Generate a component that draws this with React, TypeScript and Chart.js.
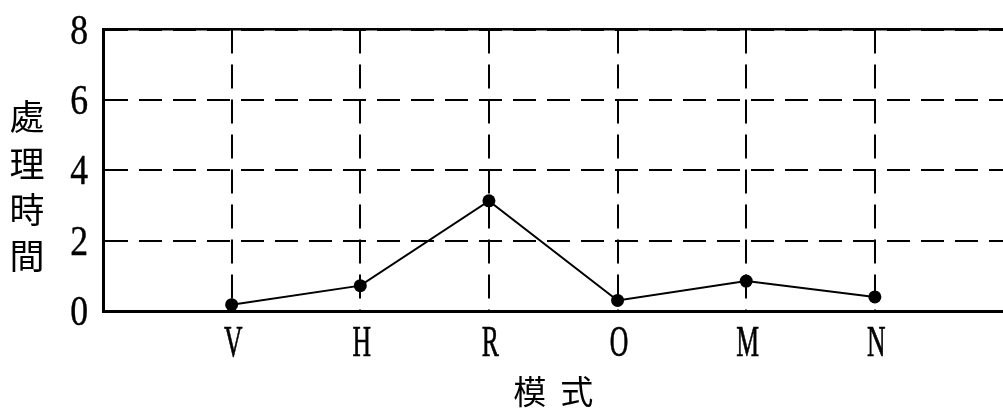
import React, { useEffect, useRef } from "react";
import { Chart, registerables } from "chart.js";

Chart.register(...registerables);

const categories = ["V", "H", "R", "O", "M", "N"];
const times = [0.18, 0.72, 3.13, 0.3, 0.85, 0.4];
const yTickValues = [0, 2, 4, 6, 8];
const yTitleChars = ["處", "理", "時", "間"];
const xTitleChars = ["模", "式"];

const W = 1010;
const H = 417;

const labelPlugin = {
  id: "customLabels",
  afterDraw(chart: any) {
    const ctx = chart.ctx as CanvasRenderingContext2D;
    const xs = chart.scales.x;
    const ys = chart.scales.y;
    const area = chart.chartArea;
    ctx.save();
    ctx.fillStyle = "#000";
    ctx.strokeStyle = "#000";
    ctx.lineJoin = "round";
    // y tick labels
    ctx.font = '42px "Liberation Serif"';
    ctx.textAlign = "right";
    ctx.textBaseline = "alphabetic";
    for (const v of yTickValues) {
      const py = ys.getPixelForValue(v);
      ctx.save();
      ctx.translate(area.left - 15, py + 14);
      ctx.scale(0.85, 1);
      ctx.lineWidth = 0.4;
      ctx.fillText(String(v), 0, 0);
      ctx.strokeText(String(v), 0, 0);
      ctx.restore();
    }
    // x category labels
    ctx.font = '45px "Liberation Serif"';
    ctx.textAlign = "center";
    categories.forEach((c, i) => {
      const px = xs.getPixelForValue(i + 1) + 1.5;
      ctx.save();
      ctx.translate(px, area.bottom + 45);
      ctx.scale(0.57, 1);
      ctx.lineWidth = 0.7;
      ctx.fillText(c, 0, 0);
      ctx.strokeText(c, 0, 0);
      ctx.restore();
    });
    // x title
    ctx.font = '33px "Noto Sans CJK TC"';
    ctx.textBaseline = "middle";
    ctx.textAlign = "center";
    const cx = (xs.left + xs.right) / 2;
    const xStep = 47;
    xTitleChars.forEach((ch, i) => {
      ctx.fillText(ch, cx + (i - (xTitleChars.length - 1) / 2) * xStep, area.bottom + 80);
    });
    // y title (stacked, upright)
    ctx.font = '35px "Noto Sans CJK TC"';
    const yStep = 46.3;
    yTitleChars.forEach((ch, i) => {
      ctx.fillText(ch, 27, area.top + 87.5 + i * yStep);
    });
    ctx.restore();
  },
};

export default function App() {
  const ref = useRef<HTMLCanvasElement | null>(null);
  useEffect(() => {
    if (!ref.current) return;
    const chart = new Chart(ref.current, {
      type: "line",
      data: {
        datasets: [
          {
            data: times.map((t, i) => ({ x: i + 1, y: t })),
            borderColor: "#000",
            borderWidth: 2,
            pointRadius: 6.5,
            pointBackgroundColor: "#000",
            pointBorderColor: "#000",
            pointBorderWidth: 0,
            tension: 0,
          },
        ],
      },
      options: {
        responsive: false,
        animation: false,
        devicePixelRatio: 1,
        layout: { padding: { left: 103, right: 4, top: 29.5, bottom: 106 } },
        plugins: { legend: { display: false }, tooltip: { enabled: false } },
        scales: {
          x: {
            type: "linear",
            position: "bottom",
            min: 0,
            max: 7,
            ticks: { display: false, stepSize: 1 },
            grid: { display: true, color: "#000", lineWidth: 2, drawTicks: false },
            border: { display: true, color: "#000", width: 3, dash: [24, 11] },
          },
          x2: {
            type: "linear",
            position: "top",
            min: 0,
            max: 7,
            ticks: { display: false },
            grid: { display: false, drawTicks: false },
            border: { display: true, color: "#000", width: 2.5 },
          },
          y: {
            type: "linear",
            min: 0,
            max: 8,
            ticks: { display: false, stepSize: 2 },
            grid: { display: true, color: "#000", lineWidth: 2, drawTicks: false },
            border: { display: true, color: "#000", width: 3, dash: [23, 11] },
          },
        },
      },
      plugins: [labelPlugin],
    });
    return () => chart.destroy();
  }, []);
  return (
    <div
      style={{
        position: "absolute",
        left: 0,
        top: 0,
        width: 1003,
        height: H,
        overflow: "hidden",
        background: "#fff",
      }}
    >
      <canvas ref={ref} width={W} height={H} style={{ display: "block", width: W, height: H }} />
    </div>
  );
}
